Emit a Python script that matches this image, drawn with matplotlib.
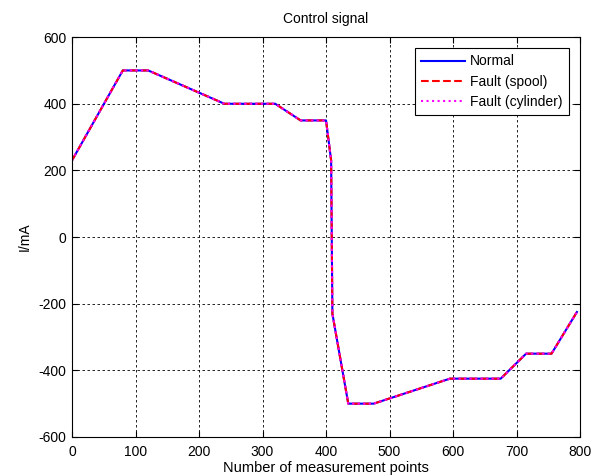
import matplotlib
matplotlib.use("Agg")
import matplotlib.pyplot as plt

# breakpoints of the control signal (measurement index, current in mA)
x_points = [0, 80, 120, 240, 320, 360, 400, 408, 410, 435, 475, 595, 675, 715, 755, 795]
normal = [230, 500, 500, 400, 400, 350, 350, 230, -230, -500, -500, -425, -425, -350, -350, -225]
fault_spool = [230, 500, 500, 400, 400, 350, 350, 230, -230, -500, -500, -425, -425, -350, -350, -225]
fault_cylinder = [230, 500, 500, 400, 400, 350, 350, 230, -230, -500, -500, -425, -425, -350, -350, -225]

x_ticks = [0, 100, 200, 300, 400, 500, 600, 700, 800]
y_ticks = [-600, -400, -200, 0, 200, 400, 600]

plt.rcParams["font.family"] = ["Liberation Sans", "DejaVu Sans"]
plt.rcParams["font.size"] = 10
plt.rcParams["axes.unicode_minus"] = False

fig = plt.figure(figsize=(6.03, 4.76), dpi=100)
ax = fig.add_axes([0.1194, 0.082, 0.8426, 0.840])

ax.plot(x_points, normal, color="blue", linestyle="-", linewidth=1.5, label="Normal")
ax.plot(x_points, fault_spool, color="red", linestyle="--", linewidth=1.5, label="Fault (spool)")
ax.plot(x_points, fault_cylinder, color="magenta", linestyle=":", linewidth=1.5, label="Fault (cylinder)")

ax.set_xlim(0, 800)
ax.set_ylim(-600, 600)
ax.set_xticks(x_ticks)
ax.set_yticks(y_ticks)
ax.tick_params(direction="in", top=True, right=True, length=4, width=0.8,
               labelsize=10, pad=4)
ax.tick_params(axis="x", pad=6)
ax.grid(True, color="black", linestyle=(0, (3, 3)), linewidth=0.6)
for s in ax.spines.values():
    s.set_linewidth(0.8)

ax.set_title("Control signal", fontsize=10, pad=10)
ax.set_xlabel("Number of measurement points", fontsize=10.5, labelpad=1)
ax.set_ylabel("I/mA", fontsize=10, labelpad=5)

leg = ax.legend(loc="upper right", fontsize=10, fancybox=False, framealpha=1,
                edgecolor="black", handlelength=3.2, borderaxespad=0.8,
                labelspacing=0.45, handletextpad=0.35, borderpad=0.45)
leg.get_frame().set_linewidth(0.8)

fig.savefig("out.png", dpi=100)
